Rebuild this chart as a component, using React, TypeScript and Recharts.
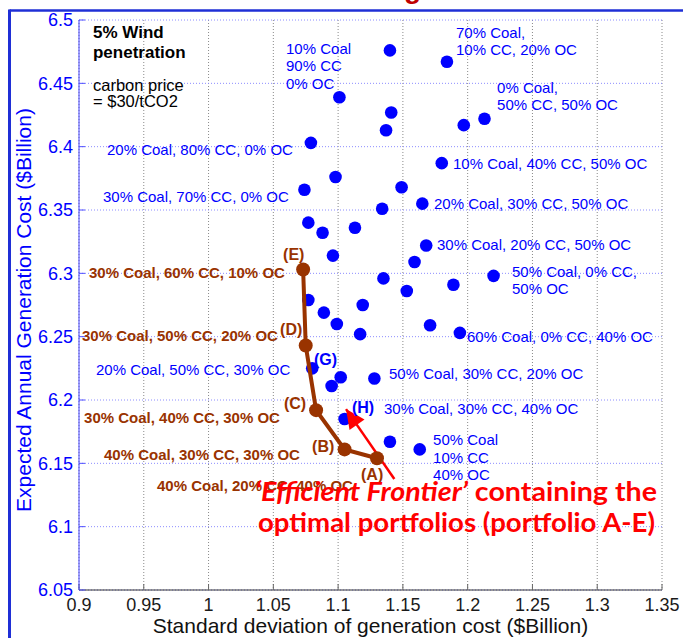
import { ScatterChart, Scatter, XAxis, YAxis, CartesianGrid, ReferenceDot, ReferenceLine } from 'recharts';

const FONT = '"Liberation Sans", Arial, sans-serif';
const BLUE = '#0000ff';
const BROWN = '#993300';
const RED = '#ff0000';

const xTicks = [0.9, 0.95, 1, 1.05, 1.1, 1.15, 1.2, 1.25, 1.3, 1.35];
const yTicks = [6.05, 6.1, 6.15, 6.2, 6.25, 6.3, 6.35, 6.4, 6.45, 6.5];

// all other portfolios (blue dots)
const portfolioSd = [
  1.140, 1.184, 1.101, 1.141, 1.137, 1.197, 1.213, 1.079, 1.180, 1.098,
  1.074, 1.149, 1.134, 1.165, 1.077, 1.088, 1.113, 1.168, 1.096, 1.159,
  1.135, 1.153, 1.189, 1.220, 1.077, 1.089, 1.119, 1.099, 1.117, 1.171,
  1.194, 1.080, 1.102, 1.128, 1.095, 1.105, 1.140, 1.163,
];
const portfolioCost = [
  6.476, 6.467, 6.439, 6.427, 6.413, 6.417, 6.422, 6.403, 6.387, 6.376,
  6.366, 6.368, 6.351, 6.355, 6.340, 6.332, 6.336, 6.322, 6.314, 6.309,
  6.296, 6.286, 6.291, 6.298, 6.279, 6.269, 6.275, 6.260, 6.252, 6.259,
  6.253, 6.225, 6.218, 6.217, 6.211, 6.185, 6.167, 6.161,
];

// efficient frontier E -> A
const frontierNames = ['E', 'D', 'C', 'B', 'A'];
const frontierSd = [1.073, 1.075, 1.083, 1.105, 1.130];
const frontierCost = [6.303, 6.243, 6.192, 6.161, 6.154];

// arrow from the frontier text towards portfolio H
const arrowFrom = { x: 1.1434, y: 6.1376 };
const arrowTo = { x: 1.1061, y: 6.1928 };

type Kind = 'heading' | 'plain' | 'blue' | 'blueTag' | 'brown' | 'brownTag';

const notes: { x: number; y: number; lines: string[]; kind: Kind }[] = [
  { x: 0.9108, y: 6.4854, lines: ['5% Wind', 'penetration'], kind: 'heading' },
  { x: 0.9108, y: 6.444, lines: ['carbon price', '= $30/tCO2'], kind: 'plain' },
  { x: 1.0598, y: 6.4732, lines: ['10% Coal', '90% CC', '0% OC'], kind: 'blue' },
  { x: 1.191, y: 6.4858, lines: ['70% Coal,', '10% CC, 20% OC'], kind: 'blue' },
  { x: 1.2227, y: 6.4424, lines: ['0% Coal,', '50% CC, 50% OC'], kind: 'blue' },
  { x: 0.9216, y: 6.3938, lines: ['20% Coal, 80% CC, 0% OC'], kind: 'blue' },
  { x: 0.9185, y: 6.3564, lines: ['30% Coal, 70% CC, 0% OC'], kind: 'blue' },
  { x: 1.1887, y: 6.382, lines: ['10% Coal, 40% CC, 50% OC'], kind: 'blue' },
  { x: 1.174, y: 6.3504, lines: ['20% Coal, 30% CC, 50% OC'], kind: 'blue' },
  { x: 1.1763, y: 6.3188, lines: ['30% Coal, 20% CC, 50% OC'], kind: 'blue' },
  { x: 1.2342, y: 6.2971, lines: ['50% Coal, 0% CC,', '50% OC'], kind: 'blue' },
  { x: 1.1995, y: 6.2458, lines: ['60% Coal, 0% CC, 40% OC'], kind: 'blue' },
  { x: 0.9131, y: 6.2197, lines: ['20% Coal, 50% CC, 30% OC'], kind: 'blue' },
  { x: 1.0814, y: 6.228, lines: ['(G)'], kind: 'blueTag' },
  { x: 1.1393, y: 6.2166, lines: ['50% Coal, 30% CC, 20% OC'], kind: 'blue' },
  { x: 1.1107, y: 6.1897, lines: ['(H)'], kind: 'blueTag' },
  { x: 1.1354, y: 6.189, lines: ['30% Coal, 30% CC, 40% OC'], kind: 'blue' },
  { x: 1.1733, y: 6.1641, lines: ['50% Coal', '10% CC', '40% OC'], kind: 'blue' },
  { x: 1.0575, y: 6.3109, lines: ['(E)'], kind: 'brownTag' },
  { x: 0.9077, y: 6.2963, lines: ['30% Coal, 60% CC, 10% OC'], kind: 'brown' },
  { x: 1.0552, y: 6.2517, lines: ['(D)'], kind: 'brownTag' },
  { x: 0.9023, y: 6.2466, lines: ['30% Coal, 50% CC, 20% OC'], kind: 'brown' },
  { x: 1.0582, y: 6.1929, lines: ['(C)'], kind: 'brownTag' },
  { x: 0.9039, y: 6.1818, lines: ['30% Coal, 40% CC, 30% OC'], kind: 'brown' },
  { x: 1.0799, y: 6.1589, lines: ['(B)'], kind: 'brownTag' },
  { x: 0.9193, y: 6.153, lines: ['40% Coal, 30% CC, 30% OC'], kind: 'brown' },
  { x: 1.1177, y: 6.1368, lines: ['(A)'], kind: 'brownTag' },
  { x: 0.9602, y: 6.1278, lines: ['40% Coal, 20% CC, 40% OC'], kind: 'brown' },
];

const kindStyle: Record<Kind, { size: number; weight: number; fill: string; lh: number }> = {
  heading: { size: 17, weight: 700, fill: '#000', lh: 19.5 },
  plain: { size: 16.5, weight: 400, fill: '#000', lh: 16.5 },
  blue: { size: 15, weight: 400, fill: BLUE, lh: 17.3 },
  blueTag: { size: 16, weight: 700, fill: BLUE, lh: 17 },
  brown: { size: 15, weight: 700, fill: BROWN, lh: 17 },
  brownTag: { size: 16, weight: 700, fill: BROWN, lh: 17 },
};

const frontierText = { x: 1.0359, y: 6.1203, x2: 1.0382, y2: 6.0958 };

const portfolios = portfolioSd.map((x, i) => ({ x, y: portfolioCost[i] }));
const frontier = frontierSd.map((x, i) => ({ x, y: frontierCost[i], name: frontierNames[i] }));

const blueDot = (p: any) => <circle cx={p.cx} cy={p.cy} r={6.3} fill={BLUE} />;
const brownDot = (p: any) => <circle cx={p.cx} cy={p.cy} r={7} fill={BROWN} />;

function noteShape(lines: string[], kind: Kind) {
  const s = kindStyle[kind];
  return (p: any) => (
    <text x={p.cx} y={p.cy} fontFamily={FONT} fontSize={s.size} fontWeight={s.weight} fill={s.fill}>
      {lines.map((l, i) => (
        <tspan key={i} x={p.cx} dy={i === 0 ? 0 : s.lh}>
          {l}
        </tspan>
      ))}
    </text>
  );
}

const arrowHead = (p: any) => (
  <polygon
    points={`${p.cx},${p.cy} ${p.cx + 18.5},${p.cy + 10.5} ${p.cx + 3.5},${p.cy + 21}`}
    fill={RED}
  />
);

const redLine1 = (p: any) => (
  <text
    x={p.cx}
    y={p.cy}
    fontFamily="Lato, 'Open Sans', sans-serif"
    fontWeight={700}
    fontSize={26}
    fill={RED}
    textLength={402}
    lengthAdjust="spacingAndGlyphs"
  >
    <tspan fontStyle="italic">‘Efficient Frontier’</tspan>
    {' containing the'}
  </text>
);

const redLine2 = (p: any) => (
  <text
    x={p.cx}
    y={p.cy}
    fontFamily="Lato, 'Open Sans', sans-serif"
    fontWeight={700}
    fontSize={26}
    fill={RED}
    textLength={397}
    lengthAdjust="spacingAndGlyphs"
  >
    optimal portfolios (portfolio A-E)
  </text>
);

export default function App() {
  return (
    <div style={{ position: 'absolute', left: 0, top: 0, width: 683, height: 638, background: '#fff', overflow: 'hidden' }}>
      <ScatterChart width={683} height={638} margin={{ top: 20, right: 21, bottom: 0, left: 0 }}>
        <CartesianGrid horizontal={false} stroke="#8a8a8a" strokeDasharray="1 2" />
        <CartesianGrid vertical={false} stroke="#8c8cff" strokeDasharray="1 2" />
        <XAxis
          type="number"
          dataKey="x"
          domain={[0.9, 1.35]}
          ticks={xTicks}
          interval={0}
          height={48}
          tickSize={6}
          tickMargin={2}
          tick={{ fill: '#1a1a1a', fontSize: 18, fontFamily: FONT }}
          tickLine={{ stroke: '#666', transform: 'translate(0,-6)' }}
          axisLine={{ stroke: '#333' }}
          allowDataOverflow
          label={{
            value: 'Standard deviation of generation cost ($Billion)',
            position: 'insideBottom',
            offset: 5,
            fill: '#111',
            fontSize: 21,
            fontFamily: FONT,
          }}
        />
        <YAxis
          type="number"
          dataKey="y"
          domain={[6.05, 6.5]}
          ticks={yTicks}
          interval={0}
          width={79}
          tickSize={6}
          tickMargin={0}
          tick={{ fill: BLUE, fontSize: 18, fontFamily: FONT }}
          tickLine={{ stroke: '#5050ff', transform: 'translate(6,0)' }}
          axisLine={{ stroke: '#4040ff' }}
          allowDataOverflow
        />
        <Scatter data={portfolios} shape={blueDot} isAnimationActive={false} />
        <Scatter
          data={frontier}
          shape={brownDot}
          fill={BROWN}
          line={{ stroke: BROWN, strokeWidth: 4 }}
          lineType="joint"
          isAnimationActive={false}
        />
        <ReferenceLine segment={[arrowFrom, arrowTo]} stroke={RED} strokeWidth={2.5} ifOverflow="visible" />
        <ReferenceDot x={arrowTo.x} y={arrowTo.y} r={0} shape={arrowHead} ifOverflow="visible" />
        {notes.map((n, i) => (
          <ReferenceDot key={i} x={n.x} y={n.y} r={0} shape={noteShape(n.lines, n.kind)} ifOverflow="visible" />
        ))}
        <ReferenceDot x={frontierText.x} y={frontierText.y} r={0} shape={redLine1} ifOverflow="visible" />
        <ReferenceDot x={frontierText.x2} y={frontierText.y2} r={0} shape={redLine2} ifOverflow="visible" />
      </ScatterChart>
      <svg width={683} height={638} style={{ position: 'absolute', left: 0, top: 0, pointerEvents: 'none' }}>
        <text x={404} y={-2} fontFamily={FONT} fontWeight={700} fontSize={28} fill="#c00000">g</text>
        <line x1={9.5} y1={10.5} x2={683} y2={10.5} stroke="#1f2fd6" strokeWidth={2.5} />
        <line x1={9.5} y1={9.5} x2={9.5} y2={638} stroke="#1f2fd6" strokeWidth={3} />
        <text
          transform="translate(31, 310) rotate(-90)"
          textAnchor="middle"
          fontFamily={FONT}
          fontSize={21}
          fill={BLUE}
        >
          Expected Annual Generation Cost ($Billion)
        </text>
      </svg>
    </div>
  );
}
